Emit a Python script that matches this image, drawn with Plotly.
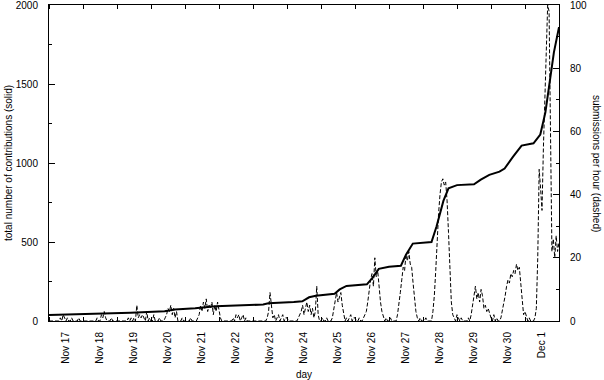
import pandas as pd
import plotly.graph_objects as go

# ---- data -------------------------------------------------------------
start = "2008-11-17 00:00"
end = "2008-12-02 00:00"

# cumulative contributions (solid): day offset from Nov 17 00:00, total
solid_day = [0.0, 2.3, 2.4, 3.4, 3.7, 4.3, 4.5, 4.9, 6.3, 6.45, 7.2, 7.45,
             7.65, 7.85, 8.4, 8.55, 8.75, 9.35, 9.5, 9.7, 10.0, 10.35, 10.5,
             10.7, 11.25, 11.4, 11.6, 11.75, 12.0, 12.5, 12.7, 12.95, 13.25,
             13.4, 13.65, 13.9, 14.25, 14.45, 14.6, 14.72, 14.85, 15.0]
solid_total = [38, 47, 52, 62, 72, 80, 86, 94, 104, 112, 120, 125,
               150, 160, 172, 200, 222, 232, 270, 330, 343, 350, 420,
               490, 500, 600, 760, 840, 860, 865, 895, 925, 945,
               965, 1040, 1110, 1125, 1180, 1320, 1520, 1700, 1860]

# submissions per hour (dashed), hourly from Nov 17 00:00
submissions_per_hour = [
    0, 0, 0, 0, 0, 0, 0, 0, 1, 0, 2, 1, 0, 1, 0, 0, 1, 0, 0, 0, 0, 1, 0, 0,      # Nov 17
    0, 0, 0, 0, 0, 0, 0, 0, 0, 0, 1, 0, 0, 2, 1, 3, 1, 0, 0, 0, 1, 0, 0, 0,      # Nov 18
    0, 0, 0, 0, 0, 0, 0, 0, 1, 0, 1, 0, 1, 0, 5, 1, 2, 1, 2, 1, 0, 3, 0, 1,      # Nov 19
    0, 0, 2, 0, 0, 0, 1, 0, 0, 0, 1, 2, 4, 3, 5, 2, 4, 1, 3, 0, 0, 0, 1, 0,      # Nov 20
    0, 0, 0, 0, 1, 0, 0, 0, 0, 1, 2, 5, 3, 6, 4, 7, 3, 5, 4, 6, 2, 5, 3, 6,      # Nov 21
    3, 1, 0, 0, 0, 0, 0, 0, 0, 0, 1, 0, 2, 1, 2, 0, 1, 2, 0, 1, 0, 0, 0, 0,      # Nov 22
    0, 0, 0, 0, 0, 0, 0, 0, 0, 0, 1, 3, 9, 4, 1, 2, 0, 1, 2, 0, 1, 2, 0, 1,      # Nov 23
    1, 0, 0, 0, 0, 0, 0, 0, 1, 2, 3, 5, 2, 4, 6, 3, 5, 2, 4, 1, 3, 11, 2, 0,     # Nov 24
    0, 1, 0, 0, 1, 0, 0, 0, 1, 4, 7, 9, 6, 8, 9, 5, 2, 0, 1, 0, 1, 2, 0, 1,      # Nov 25
    1, 0, 0, 1, 0, 0, 1, 2, 3, 6, 10, 13, 15, 11, 20, 14, 16, 10, 6, 3, 1, 0, 1, 0,   # Nov 26
    0, 1, 0, 0, 0, 0, 2, 5, 9, 13, 17, 16, 21, 19, 22, 18, 17, 12, 7, 3, 1, 0, 1, 0,  # Nov 27
    0, 0, 1, 0, 0, 0, 0, 3, 8, 16, 26, 34, 40, 44, 45, 43, 44, 38, 28, 14, 6, 2, 1, 0,  # Nov 28
    2, 1, 0, 1, 0, 0, 0, 0, 1, 0, 2, 5, 8, 11, 7, 9, 6, 10, 8, 4, 5, 3, 4, 2,    # Nov 29
    1, 0, 2, 0, 1, 0, 0, 1, 3, 5, 8, 11, 13, 12, 15, 14, 16, 15, 18, 16, 17, 12, 6, 2,  # Nov 30
    3, 1, 0, 1, 0, 0, 0, 1, 4, 20, 48, 42, 35, 55, 70, 88, 100, 98, 60, 22, 26, 20, 27, 22,  # Dec 1
    25,
]

left_ticks = [0, 500, 1000, 1500, 2000]
right_ticks = [0, 20, 40, 60, 80, 100]

# ---- figure -----------------------------------------------------------
t0 = pd.Timestamp(start)
solid_x = [t0 + pd.Timedelta(days=d) for d in solid_day]
dash_x = pd.date_range(start=start, periods=len(submissions_per_hour), freq="h")

FONT = "Liberation Sans, Arial, Helvetica, sans-serif"

fig = go.Figure()
fig.add_trace(go.Scatter(x=dash_x, y=submissions_per_hour, yaxis="y2",
                         mode="lines", line=dict(color="black", width=1, dash="4px,2px"),
                         showlegend=False))
fig.add_trace(go.Scatter(x=solid_x, y=solid_total, mode="lines",
                         line=dict(color="black", width=2), showlegend=False))

fig.update_layout(
    width=604, height=380,
    margin=dict(l=49, r=45, t=5, b=59, autoexpand=False),
    paper_bgcolor="white", plot_bgcolor="white",
    font=dict(family=FONT, size=10, color="black"),
    xaxis=dict(
        type="date", range=[start, end],
        tick0=start, dtick=86400000, tickformat="%b %-d",
        ticklabelmode="period", tickangle=-90,
        ticks="inside", ticklen=4, tickcolor="black",
        showline=True, linecolor="black", linewidth=1, mirror="ticks",
        showgrid=False, zeroline=False, ticklabelstandoff=6,
        ticklabeloverflow="allow", automargin=False,
    ),
    yaxis=dict(
        range=[0, 2000], tickvals=left_ticks,
        ticks="inside", ticklen=6, tickcolor="black",
        minor=dict(dtick=250, ticks="inside", ticklen=3, tickcolor="black", showgrid=False),
        showline=True, linecolor="black", linewidth=1,
        showgrid=False, zeroline=False, ticklabelstandoff=8,
        ticklabeloverflow="allow", automargin=False,
    ),
    yaxis2=dict(
        range=[0, 100], tickvals=right_ticks, overlaying="y", side="right",
        ticks="inside", ticklen=6, tickcolor="black",
        minor=dict(dtick=10, ticks="inside", ticklen=3, tickcolor="black", showgrid=False),
        showline=True, linecolor="black", linewidth=1,
        showgrid=False, zeroline=False, ticklabelstandoff=8,
        ticklabeloverflow="allow", automargin=False,
    ),
    annotations=[
        dict(text="total number of contributions (solid)", xref="paper", yref="paper",
             x=(8 - 49) / 510, y=0.5, textangle=-90, showarrow=False,
             xanchor="center", yanchor="middle", font=dict(size=10)),
        dict(text="submissions per hour (dashed)", xref="paper", yref="paper",
             x=(597 - 49) / 510, y=0.5, textangle=90, showarrow=False,
             xanchor="center", yanchor="middle", font=dict(size=10)),
        dict(text="day", xref="paper", yref="paper",
             x=0.5, y=(321 - 374) / 316, showarrow=False,
             xanchor="center", yanchor="middle", font=dict(size=10)),
    ],
)

fig.write_html("out.html", config={"displayModeBar": False},
               post_script="document.body.style.margin='0px';")
